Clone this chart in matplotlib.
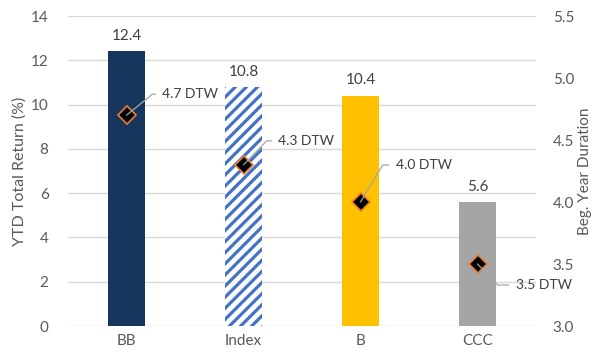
import numpy as np
import matplotlib
matplotlib.use("Agg")
import matplotlib.pyplot as plt

# Datos del gráfico
categorias = ["BB", "Index", "B", "CCC"]
retorno_ytd = [12.4, 10.8, 10.4, 5.6]
duracion = [4.7, 4.3, 4.0, 3.5]
etiquetas_dtw = ["4.7 DTW", "4.3 DTW", "4.0 DTW", "3.5 DTW"]

# Estilo
plt.rcParams['font.family'] = ['Lato', 'DejaVu Sans']
gris_texto = "#595959"
colores = ["#17365D", "white", "#FFC000", "#A5A5A5"]
plt.rcParams['hatch.color'] = "#4472C4"
plt.rcParams['hatch.linewidth'] = 2.3

fig = plt.figure(figsize=(5.94, 3.58), dpi=100)
ax = fig.add_axes([68 / 594, 32 / 358, 468 / 594, 310 / 358])
x = np.arange(len(categorias))

barras = ax.bar(x, retorno_ytd, width=0.32, color=colores, linewidth=0, zorder=2)
barras[1].set_hatch("///")

for xi, v in zip(x, retorno_ytd):
    ax.annotate(f"{v:.1f}", (xi, v), xytext=(0, 6), textcoords="offset points",
                ha="center", va="bottom", fontsize=11, color="#404040")

ax.set_xlim(-0.5, len(categorias) - 0.5)
ax.set_ylim(0, 14)
ax.set_yticks(np.arange(0, 15, 2))
ax.set_xticks(x)
ax.set_xticklabels(categorias)
ax.grid(axis="y", color="#D9D9D9", linewidth=1, zorder=0)
ax.set_axisbelow(True)
for s in ax.spines.values():
    s.set_visible(False)
ax.tick_params(length=0, colors=gris_texto, labelsize=11)
ax.tick_params(axis="y", pad=14)
ax.tick_params(axis="x", pad=6)
ax.set_ylabel("YTD Total Return (%)", fontsize=11.5, color=gris_texto, labelpad=3)

# Eje secundario: duración
ax2 = ax.twinx()
ax2.set_ylim(3.0, 5.5)
ax2.set_yticks(np.arange(3.0, 5.51, 0.5))
ax2.set_yticklabels([f"{t:.1f}" for t in np.arange(3.0, 5.51, 0.5)])
for s in ax2.spines.values():
    s.set_visible(False)
ax2.tick_params(length=0, colors=gris_texto, labelsize=11, pad=12)
ax2.set_ylabel("Beg. Year Duration", fontsize=11, color=gris_texto, labelpad=3)

ax2.plot(x, duracion, linestyle="none", marker="D", markersize=9.5,
         markerfacecolor="black", markeredgecolor="#ED7D31", markeredgewidth=1.2, zorder=3)

# Posiciones de las etiquetas (px -> pt) y ángulo del conector
desplazamientos = [(36, 21, 39), (35, 24, 46), (35, 37, 59), (38, -21, -46)]
for xi, d, txt, (dx, dy, ang) in zip(x, duracion, etiquetas_dtw, desplazamientos):
    ax2.annotate(txt, (xi, d), xytext=(dx * 0.72, dy * 0.72), textcoords="offset points",
                 ha="left", va="center", fontsize=10, color="#404040",
                 arrowprops=dict(arrowstyle="-", color="#A6A6A6", lw=0.9,
                                 shrinkA=3, shrinkB=0, relpos=(0, 0.5),
                                 connectionstyle=f"angle,angleA=0,angleB={ang},rad=0"))

fig.savefig("out.png", dpi=100)
